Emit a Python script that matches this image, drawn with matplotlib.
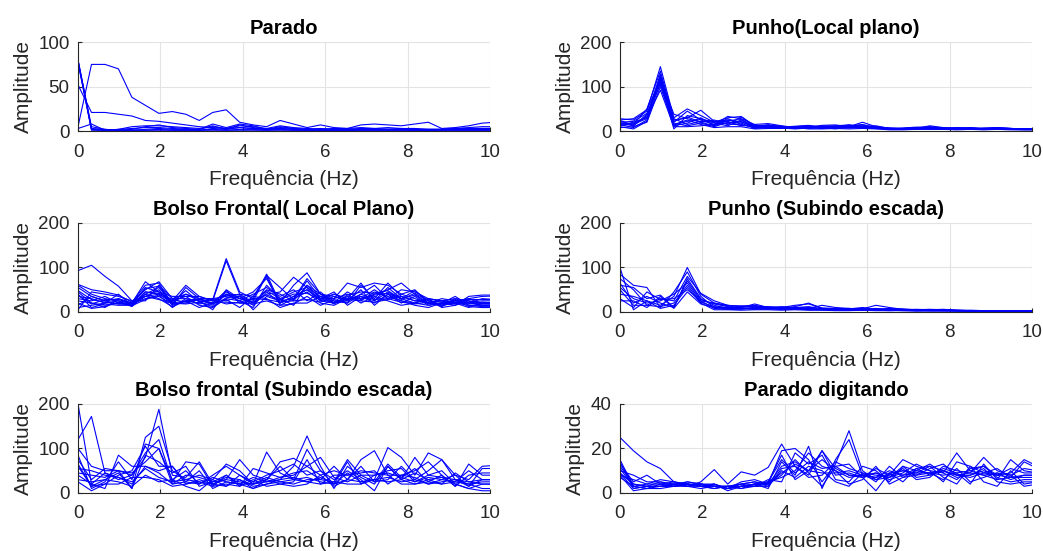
import matplotlib
matplotlib.use("Agg")
import matplotlib.pyplot as plt

plt.rcParams['font.family'] = ['Liberation Sans', 'DejaVu Sans']

freq = [0.0, 0.327, 0.654, 0.981, 1.308, 1.635, 1.962, 2.289, 2.616, 2.943,
        3.270, 3.597, 3.924, 4.251, 4.578, 4.905, 5.232, 5.559, 5.886, 6.213,
        6.540, 6.867, 7.194, 7.521, 7.848, 8.175, 8.502, 8.829, 9.156, 9.483,
        9.810, 10.137]

titles = ["Parado", "Punho(Local plano)", "Bolso Frontal( Local Plano)",
          "Punho (Subindo escada)", "Bolso frontal (Subindo escada)", "Parado digitando"]
ylims = [100, 200, 200, 200, 200, 40]
yticks = [[0, 50, 100], [0, 100, 200], [0, 100, 200], [0, 100, 200], [0, 100, 200], [0, 20, 40]]
xticks = [0, 2, 4, 6, 8, 10]

parado = [
    [5,75,75,70,38,29,20,22,19,12,21,24,10,7,5,12,8,4,7,4,3,7,8,7,6,8,10,3,4,6,9,10],
    [52,21,21,19,17,12,11,9,7,5,4,3,4,3,2,4,3,2,2,2,2,2,2,2,2,2,2,2,2,2,2,2],
    [80,5,2,1,2,5,7,4,3,2,8,4,8,6,2,5,3,2,3,2,2,3,3,2,3,2,2,2,3,3,3,3],
    [78,2,1,2,5,6,6,5,4,3,5,3,6,5,3,6,4,3,2,3,3,4,3,4,3,3,2,2,2,3,3,3],
    [79,3,2,1,1,2,3,2,2,1,3,2,4,3,2,3,2,1,1,2,2,2,2,2,2,1,1,2,2,2,2,2],
    [77,1,1,1,1,1,2,1,1,1,2,1,2,2,1,2,1,1,1,1,1,1,1,1,1,1,1,1,1,1,1,1],
    [80,2,1,2,3,4,4,3,2,2,6,2,7,4,2,3,2,2,2,1,1,2,2,2,2,2,1,2,3,4,5,5],
    [3,8,1,1,1,1,1,1,1,1,1,1,1,1,1,1,1,1,1,1,1,1,1,1,1,1,1,1,1,1,1,1],
]

punho_plano = [
    [28,25,45,145,30,50,35,20,30,33,12,14,10,9,10,11,12,14,10,9,6,6,8,10,7,6,7,6,8,6,5,5],
    [22,15,50,135,25,30,47,22,25,20,12,10,8,10,12,10,10,8,12,8,6,5,7,9,6,6,7,5,6,5,4,4],
    [18,12,35,128,20,45,25,15,33,28,15,17,12,8,9,13,14,10,20,10,7,6,6,12,8,7,6,7,8,6,5,5],
    [15,8,25,122,12,18,30,12,28,15,8,12,10,6,8,9,8,12,15,7,5,4,5,7,5,5,5,6,5,4,4,4],
    [12,20,30,118,38,28,20,25,15,32,10,8,9,11,13,8,9,14,10,12,6,7,9,8,6,8,7,5,7,6,5,5],
    [25,28,48,115,18,12,18,10,20,18,6,9,7,5,7,6,7,7,8,6,4,5,5,6,4,4,5,4,5,4,3,3],
    [10,5,22,110,5,35,28,18,12,25,9,14,8,10,6,11,11,9,14,9,5,6,8,7,5,6,6,6,6,5,4,4],
    [20,22,40,105,28,15,22,20,22,12,14,7,11,7,11,7,10,11,8,7,7,5,6,5,7,5,8,5,6,6,5,5],
    [8,10,20,100,15,25,15,8,10,10,5,6,6,8,5,5,6,5,6,5,3,3,4,4,4,3,4,3,4,3,3,3],
    [16,18,32,92,10,10,12,15,18,22,7,11,9,6,9,8,5,10,9,10,4,5,7,5,5,6,5,5,6,4,4,4],
    [14,16,28,125,22,32,20,12,24,26,10,9,8,9,7,9,8,9,11,8,5,6,6,6,6,5,6,5,5,5,4,4],
    [24,12,38,112,14,22,26,22,16,14,9,13,11,7,10,10,9,8,9,7,6,4,5,8,5,7,5,6,6,5,4,4],
]

bolso_plano = [
    [93,105,80,58,25,35,40,20,25,30,28,120,45,30,85,20,35,50,25,40,30,35,25,45,30,20,15,20,25,20,30,28],
    [60,40,30,25,20,68,45,25,60,35,25,115,40,35,80,15,30,75,40,25,20,60,30,65,35,25,20,15,30,25,20,22],
    [55,35,25,30,20,50,68,30,30,25,20,45,30,45,75,20,60,88,40,35,25,40,60,30,50,45,30,25,20,15,15,16],
    [45,20,15,20,18,40,55,20,40,30,15,40,25,10,60,30,15,60,30,40,30,65,25,55,30,48,25,15,20,30,35,36],
    [40,10,18,15,15,35,50,15,25,20,30,35,40,20,40,45,78,55,25,20,30,30,40,50,65,40,20,25,30,20,20,18],
    [35,30,20,40,15,45,40,25,35,15,10,30,25,40,55,35,50,25,45,20,35,25,45,35,25,20,30,10,15,25,15,14],
    [30,25,35,20,20,30,35,18,20,30,30,25,35,15,45,20,35,50,30,45,15,35,20,40,20,35,15,20,35,15,12,12],
    [10,15,20,25,12,40,30,12,25,10,20,28,10,35,30,10,20,20,35,30,40,20,35,25,15,20,30,25,20,10,20,20],
    [5,45,40,35,25,25,60,30,40,25,5,50,30,20,50,40,25,60,40,20,25,50,15,40,25,15,10,20,15,35,38,38],
    [25,20,10,30,18,55,45,35,35,35,25,40,38,5,35,25,30,45,20,15,30,30,50,30,40,50,20,30,25,20,15,15],
    [62,50,45,38,22,60,65,15,55,30,20,48,20,25,82,55,28,70,30,30,65,55,65,60,40,30,20,18,25,30,18,18],
    [48,28,22,18,16,45,42,28,22,28,18,38,30,28,38,28,40,42,28,22,45,28,38,42,30,38,18,20,18,22,25,25],
    [20,8,12,22,14,28,38,10,30,18,22,22,20,18,25,15,18,35,15,28,20,40,28,30,22,18,22,12,28,12,10,10],
    [38,18,28,28,20,52,58,22,48,22,12,32,35,22,48,30,45,55,35,18,38,45,42,48,28,42,25,22,22,18,22,20],
    [15,35,25,18,22,35,28,20,18,22,28,18,22,30,28,22,25,28,22,35,28,25,22,28,35,25,28,15,20,28,28,28],
]

punho_escada = [
    [100,5,25,15,35,100,40,20,15,12,10,10,12,10,8,15,10,8,6,6,5,5,4,4,5,4,3,3,3,2,2,2],
    [85,60,55,10,45,90,35,10,10,10,18,10,8,12,20,8,6,6,8,5,8,7,5,5,4,3,3,3,2,2,2,2],
    [75,50,15,30,25,80,42,25,15,12,12,12,10,15,18,9,8,7,7,15,10,6,5,6,5,4,3,3,3,3,3,3],
    [65,20,35,20,10,75,30,15,8,8,8,10,8,8,10,8,7,8,6,8,5,5,5,4,4,3,4,3,2,2,2,2],
    [60,55,30,38,10,70,28,18,12,10,15,8,6,10,12,7,6,5,6,6,6,5,4,5,4,3,3,2,2,2,2,2],
    [55,30,20,25,40,65,25,8,6,6,10,7,10,9,8,6,5,6,5,7,4,4,5,3,3,3,2,2,2,2,2,2],
    [50,15,15,12,20,60,22,12,10,9,6,9,6,6,6,5,5,4,5,5,4,3,3,3,3,2,2,2,2,2,2,2],
    [40,35,25,8,15,55,20,5,5,4,5,5,4,5,4,4,3,3,4,3,3,3,2,2,2,2,2,2,2,1,1,1],
    [30,10,45,28,30,50,25,20,13,14,14,11,9,8,7,6,8,7,10,6,7,5,6,5,6,4,3,3,3,3,3,3],
    [25,25,10,35,8,45,18,10,7,7,7,6,7,7,5,5,4,5,4,4,3,4,3,4,3,3,2,2,2,2,2,2],
]

bolso_escada = [
    [200,20,10,85,60,60,50,60,20,30,20,35,30,15,20,30,60,128,60,10,60,35,20,60,30,80,40,50,20,10,5,5],
    [120,172,45,30,40,80,188,40,35,70,20,15,40,20,92,45,30,98,50,20,45,25,30,102,80,40,90,75,30,15,55,55],
    [100,60,50,50,10,125,150,50,30,40,30,65,50,20,30,70,78,60,40,15,30,75,95,40,40,50,70,40,15,65,40,40],
    [85,10,25,70,30,110,100,30,50,20,35,25,20,35,25,35,45,50,30,60,30,60,25,30,60,30,50,75,40,30,60,62],
    [75,30,55,50,40,90,120,25,70,65,15,40,15,55,45,35,40,60,80,35,25,40,40,50,55,25,35,30,25,50,30,30],
    [65,15,20,40,50,105,60,60,25,20,40,60,40,25,40,50,65,40,50,30,50,30,5,60,30,45,30,20,45,25,20,20],
    [55,50,40,35,20,60,45,20,40,35,25,30,75,40,30,20,25,75,20,25,75,40,25,65,35,25,40,35,20,10,20,20],
    [45,40,35,50,45,70,100,20,25,50,10,25,20,20,25,30,35,25,20,40,40,50,45,40,20,20,30,35,30,25,30,30],
    [30,25,30,25,15,40,25,30,15,5,30,15,30,10,20,25,20,30,30,25,20,20,30,25,30,20,25,20,25,20,10,10],
    [25,5,20,20,35,35,30,15,20,25,15,20,15,30,15,20,15,20,40,50,40,45,50,20,40,35,20,30,40,15,30,30],
    [60,15,30,45,10,85,70,45,60,15,25,40,20,10,30,60,30,25,35,20,70,20,40,45,35,55,25,40,15,40,45,45],
    [40,20,45,35,25,55,35,25,30,25,20,30,25,20,35,25,30,35,25,20,30,25,30,35,25,30,20,25,30,20,25,25],
]

parado_digitando = [
    [25,19,14,11,5,4,4,3,3,4,5,4,9,13,10,15,10,7,8,9,7,12,10,9,10,8,7,9,8,7,8,8],
    [15,3,2,3,4,3,5,10.5,4,9.5,8,11.5,22,12,8,19,11,8,7,11,8,15,12,10,9,18,10,12,8,9,15,12],
    [13,5,8,4,3,5,4,3,2,5,6,4,19,20,15,5,13,28,10,6,9,10,8,11,13,8,9,16,10,8,11,10],
    [11,3,4,6,5,4,3,4,1,3,4,2,14,8,21,2,15,24,8,7,10,8,9,12,7,4,12,9,11,7,14,11],
    [10,8,5,5,3,4,3,2,3,4,3,6,5,18,13,17,6,5,12,10,5,12,7,8,10,8,8,11,5,4,5,5],
    [9,2,3,3,4,5,4,3,2,3,4,5,17,6,10,19,8,9,7,1,9,5,11,8,11,9,4,13,6,15,10,9],
    [8,1,2,2,3,4,3,2,3,2,3,4,8,15,9,3,12,8,8,6,7,9,13,10,5,14,12,5,3,10,4,5],
    [7,3,2,4,4,3,2,3,3,2,4,5,7,10,18,12,10,4,6,12,4,7,10,13,9,6,11,12,7,5,6,6],
    [12,4,3,3,3,4,3,4,2,3,3,3,11,12,7,8,14,11,9,8,7,11,6,7,12,10,9,8,9,6,8,8],
    [8,6,4,4,5,3,4,4,2,4,5,3,10,7,12,10,5,3,9,5,12,7,8,9,6,11,5,7,9,8,3,4],
    [9,4,3,5,4,4,3,3,3,3,4,4,12,14,10,9,9,10,8,7,8,10,9,9,8,9,10,8,6,7,7,7],
    [14,2,3,3,3,3,3,3,2,3,3,5,15,9,14,11,12,13,7,9,6,8,11,12,10,7,8,10,8,11,9,9],
]

panels = [parado, punho_plano, bolso_plano, punho_escada, bolso_escada, parado_digitando]

fig = plt.figure(figsize=(10.43, 5.51), dpi=100)
lefts = [0.0748, 0.5944]
bottoms = [0.762, 0.4338, 0.1053]
w, h = 0.395, 0.1615
txt = '#262626'

for i, series in enumerate(panels):
    r, c = divmod(i, 2)
    ax = fig.add_axes([lefts[c], bottoms[r], w, h])
    for s in series:
        ax.plot(freq, s, color=(0, 0, 1), lw=0.8)
    ax.set_xlim(0, 10)
    ax.set_ylim(0, ylims[i])
    ax.set_xticks(xticks)
    ax.set_yticks(yticks[i])
    ax.grid(True, color='#e3e3e3', lw=0.8)
    ax.set_axisbelow(True)
    for sp in ['top', 'right']:
        ax.spines[sp].set_visible(False)
    for sp in ['left', 'bottom']:
        ax.spines[sp].set_color('#262626')
        ax.spines[sp].set_linewidth(0.8)
    ax.tick_params(direction='in', length=3, width=0.8, colors=txt,
                   labelsize=13.5, pad=6)
    ax.tick_params(axis='x', pad=9)
    ax.set_title(titles[i], fontsize=14.5, fontweight='bold', color='black', pad=6)
    ax.set_xlabel('Frequência (Hz)', fontsize=15, color=txt, labelpad=7)
    ax.set_ylabel('Amplitude', fontsize=15, color=txt, labelpad=4)

fig.savefig('out.png', dpi=100)
